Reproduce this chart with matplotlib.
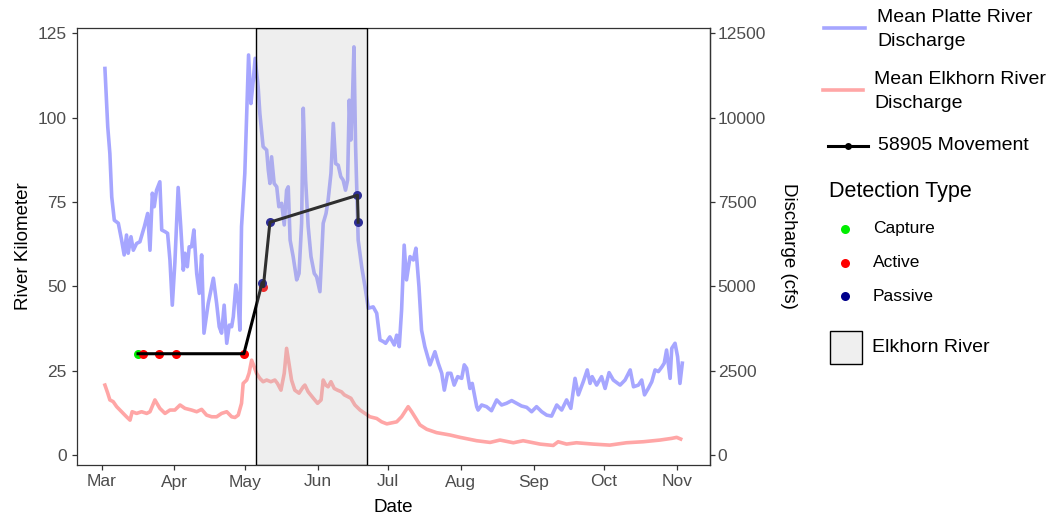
import numpy as np
import pandas as pd
import matplotlib
matplotlib.use("Agg")
import matplotlib.pyplot as plt
import matplotlib.dates as mdates
from matplotlib.lines import Line2D
from matplotlib.patches import Rectangle

plt.rcParams["font.family"] = ["Liberation Sans", "DejaVu Sans"]

# ---------------------------------------------------------------------------
# Data (days counted from 1 March; discharge in cfs; river km)
# ---------------------------------------------------------------------------
season_start = "2019-03-01"

platte_day = [
    1.4, 2.6, 3.5, 4.3, 5.4, 7.1, 8.5, 9.6, 10.6, 11.3, 12.5, 13.5, 14.9, 16.3,
    18.2, 19.6, 20.6, 21.6, 22.4, 23.4, 24.8, 25.6, 27.0, 28.1, 29.1, 30.1, 31.2,
    32.6, 33.7, 34.8, 35.5, 36.5, 37.3, 38.3, 39.3, 40.5, 41.6, 42.6, 43.6, 45.4,
    47.6, 49.0, 50.1, 51.1, 52.2, 53.3, 54.4, 55.4, 56.1, 57.2, 58.2, 58.9, 59.6,
    61.0, 62.0, 62.6, 63.6, 64.6, 65.4, 66.7, 67.4, 68.8, 70.3, 71.0, 71.7, 72.4,
    73.5, 74.6, 75.5, 76.7, 77.8, 78.8, 79.5, 80.3, 81.6, 83.1, 84.1, 85.2, 85.9,
    86.9, 88.0, 89.2, 90.6, 91.6, 93.0, 94.4, 95.6, 96.5, 97.7, 98.7, 99.7, 100.8,
    101.9, 102.9, 103.9, 104.8, 105.5, 106.2, 106.9, 107.5, 108.2, 109.3, 110.8,
    112.2, 113.6, 115.7, 117.2, 118.6, 120.0, 121.0, 122.8, 124.7, 125.7, 126.8,
    127.8, 128.9, 129.9, 131.4, 132.8, 133.9, 135.2, 136.3, 137.7, 139.9, 142.0,
    143.4, 144.9, 146.0, 147.4, 148.8, 150.2, 151.7, 153.4, 154.5, 155.5, 156.9,
    157.9, 159.8, 160.4, 161.9, 164.0, 166.1, 168.3, 170.4, 172.5, 174.7, 176.8,
    178.9, 181.1, 183.2, 185.3, 187.5, 189.6, 191.7, 193.9, 196.0, 198.1, 199.9,
    201.7, 203.1, 205.2, 206.9, 208.1, 209.0, 210.9, 213.0, 214.5, 216.2, 218.0,
    220.9, 223.0, 225.2, 226.6, 228.7, 230.1, 231.3, 232.9, 234.4, 235.8, 237.2,
    238.7, 239.7, 240.7, 242.2, 242.9, 244.3, 245.4, 246.4, 247.4,
]
platte_cfs = [
    11460, 9730, 8940, 7650, 6960, 6870, 6370, 5930, 6520, 5980, 6470, 6070, 6270, 6320,
    6770, 7160, 6070, 7760, 7360, 7850, 8100, 6670, 6620, 6570, 5780, 4440, 5700,
    7930, 6770, 5480, 5980, 5580, 6170, 6170, 6670, 5380, 4790, 5930, 3610, 4490,
    5240, 4490, 3800, 3610, 4440, 3310, 3850, 3800, 4100, 5040, 4490, 3700, 6770,
    8350, 10520, 11860, 10420, 11110, 11760, 10900, 10130, 9140, 9040, 8450, 8050, 8840,
    8050, 7950, 7360, 7460, 6820, 7850, 7950, 6370, 5880, 5190, 5380, 6870, 10280,
    8150, 6770, 5880, 5380, 5280, 4840, 6870, 7160, 7560, 8350, 9830, 8640, 8590,
    8250, 8150, 7850, 8150, 10520, 9340, 10620, 12100, 9140, 6370, 5580,
    4990, 4350, 4390, 4200, 3410, 3360, 3310, 3500, 3260, 3550, 3210,
    4300, 6220, 5190, 5880, 5780, 6130, 4990, 3700, 3210, 2670, 3060,
    2720, 2420, 1920, 2420, 2420, 2070, 2320, 2270, 2670, 2570, 1970,
    2120, 1430, 1330, 1480, 1430, 1310, 1630, 1480, 1530, 1610, 1530,
    1450, 1410, 1280, 1430, 1280, 1180, 1150, 1480, 1330, 1630, 1380,
    2270, 1780, 2170, 2520, 2120, 2320, 2070, 2320, 1970, 2440, 2220,
    2070, 2220, 2520, 2020, 2070, 2220, 1780, 1970, 2170, 2520, 2470,
    2610, 2720, 3110, 2270, 3160, 3310, 2910, 2120, 2720,
]

elkhorn_day = [
    1.4, 2.6, 3.5, 4.9, 6.4, 8.5, 10.6, 12.1, 13.0, 14.9, 17.0, 19.2, 20.6, 22.7,
    24.8, 27.0, 29.1, 31.2, 33.4, 35.5, 38.3, 40.5, 42.6, 44.7, 46.9, 49.0, 51.1,
    53.3, 55.4, 56.8, 58.2, 59.6, 60.3, 61.8, 62.8, 63.9, 65.0, 66.0, 67.4, 68.8,
    70.3, 72.1, 73.8, 74.9, 76.4, 77.8, 78.8, 79.8, 80.9, 82.3, 84.1, 85.9, 86.6,
    88.0, 90.2, 92.0, 93.5, 94.4, 95.5, 96.5, 97.7, 99.1, 100.5, 102.2, 103.4,
    104.8, 106.2, 107.9, 110.1, 112.2, 114.3, 117.2, 119.3, 121.5, 123.6, 125.7,
    127.8, 129.2, 130.6, 132.1, 135.6, 138.5, 142.7, 148.4, 152.7, 159.8, 165.5,
    169.7, 175.4, 179.6, 186.8, 192.4, 194.5, 198.1, 202.3, 209.4, 216.5, 223.6,
    230.8, 237.9, 242.9, 245.0, 246.7,
]
elkhorn_cfs = [
    2070, 1830, 1630, 1580, 1430, 1280, 1130, 1030, 1280, 1230, 1280, 1230, 1280, 1630,
    1380, 1230, 1330, 1330, 1480, 1380, 1330, 1280, 1350, 1180, 1130, 1130, 1230,
    1280, 1130, 1110, 1180, 1530, 2120, 2220, 2420, 2810, 2610, 2420, 2270, 2170,
    2220, 2170, 2220, 2120, 1920, 2420, 3160, 2720, 2220, 1920, 1830, 2020, 2070,
    1870, 1680, 1530, 1630, 2220, 2070, 2020, 2170, 1970, 1920, 1870, 1780,
    1730, 1680, 1480, 1330, 1230, 1130, 1080, 980, 920, 950, 980,
    1130, 1280, 1430, 1280, 890, 760, 660, 590, 520, 420, 370,
    440, 360, 420, 320, 280, 390, 320, 360, 320, 290, 360,
    390, 440, 490, 520, 470,
]

# Fish 58905 detections
move_day = [15.5, 17.6, 24.4, 31.7, 60.6, 68.4, 68.9, 71.7, 109.0, 109.3]
move_rkm = [30, 30, 30, 30, 30, 51.1, 49.9, 69, 77, 69]
move_type = ["Capture", "Active", "Active", "Active", "Active",
             "Passive", "Active", "Passive", "Passive", "Passive"]

detection_types = ["Capture", "Active", "Passive"]
detection_colors = ["#00EE00", "#FF0000", "#00008B"]

# Time spent in the Elkhorn River
elkhorn_visit = [65.8, 112.9]

rkm_ticks = [0, 25, 50, 75, 100, 125]
cfs_ticks = [0, 2500, 5000, 7500, 10000, 12500]


def to_date(days):
    return pd.Timestamp(season_start) + pd.to_timedelta(np.asarray(days, float), unit="D")


# ---------------------------------------------------------------------------
# Figure
# ---------------------------------------------------------------------------
W, H = 1049, 515
fig = plt.figure(figsize=(W / 100, H / 100), dpi=100)
ax = fig.add_axes([77 / W, 1 - 464.5 / H, (710 - 77) / W, (464.5 - 28) / H])

platte_col = "#A6A6FF"
elkhorn_col = "#FFA6A6"
lw_q = 2.6

ax.plot(to_date(platte_day), np.asarray(platte_cfs) / 100, color=platte_col,
        lw=lw_q, solid_joinstyle="round", zorder=2)
ax.plot(to_date(elkhorn_day), np.asarray(elkhorn_cfs) / 100, color=elkhorn_col,
        lw=lw_q, solid_joinstyle="round", zorder=2)

mdays = np.asarray(move_day)
mrkm = np.asarray(move_rkm)
mtype = np.asarray(move_type)
for t, c in zip(detection_types, detection_colors):
    sel = mtype == t
    ax.plot(to_date(mdays[sel]), mrkm[sel], "o", color=c, ms=6.5, mew=0, zorder=3)
order = np.argsort(mdays, kind="stable")
ax.plot(to_date(mdays[order]), mrkm[order], color="black", lw=2.2,
        solid_joinstyle="round", zorder=4)

# shaded Elkhorn period drawn over the series
v0, v1 = to_date(elkhorn_visit)
ax.axvspan(v0, v1, facecolor=(0.745, 0.745, 0.745, 0.25), edgecolor="black",
           lw=1.0, zorder=5)

ax.set_xlim(to_date([-10.5, 259.2]))
ax.set_ylim(-2.85, 126.6)
ax.xaxis.set_major_locator(mdates.MonthLocator())
ax.xaxis.set_major_formatter(mdates.DateFormatter("%b"))
ax.set_yticks(rkm_ticks)

spine_col = "#333333"
for s in ax.spines.values():
    s.set_color(spine_col)
    s.set_linewidth(0.9)

tick_kw = dict(direction="out", length=3.6, width=0.9, color=spine_col,
               labelsize=12.5, labelcolor="#4D4D4D")
ax.tick_params(axis="both", pad=3.6, **tick_kw)

sec = ax.secondary_yaxis("right", functions=(lambda v: v * 100, lambda v: v / 100))
sec.set_yticks(cfs_ticks)
sec.tick_params(pad=2.0, **tick_kw)
sec.spines["right"].set_color(spine_col)
sec.spines["right"].set_linewidth(0.9)

ax.set_xlabel("Date", fontsize=13.5, labelpad=6.5)
ax.set_ylabel("River Kilometer", fontsize=13.5, labelpad=4)
sec.set_ylabel("Discharge (cfs)", fontsize=13.5, rotation=270, labelpad=22)

# ---------------------------------------------------------------------------
# Legend (figure pixel coordinates, y downward)
# ---------------------------------------------------------------------------
lax = fig.add_axes([0, 0, 1, 1], facecolor="none")
lax.set_xlim(0, W)
lax.set_ylim(H, 0)
lax.axis("off")

lab = dict(fontsize=14, va="center", ha="left", color="black")
lax.add_line(Line2D([824, 865], [28.3, 28.3], color=platte_col, lw=lw_q))
lax.text(877, 18, "Mean Platte River", **lab)
lax.text(877, 41, "Discharge", **lab)

lax.add_line(Line2D([823, 863], [90, 90], color=elkhorn_col, lw=lw_q))
lax.text(874, 80, "Mean Elkhorn River", **lab)
lax.text(874, 103, "Discharge", **lab)

lax.add_line(Line2D([828, 868], [146, 146], color="black", lw=2.2))
lax.plot([848], [146], "o", color="black", ms=5, mew=0)
lax.text(878, 146, "58905 Movement", **lab)

lax.text(829, 191.5, "Detection Type", fontsize=15.5, va="center", ha="left")
for i, (t, c) in enumerate(zip(detection_types, detection_colors)):
    y = 228.7 + i * 33.8
    lax.plot([845], [y], "o", color=c, ms=6.5, mew=0)
    lax.text(873, y, t, fontsize=12.5, va="center", ha="left")

lax.add_patch(Rectangle((829.5, 331), 32, 32.5, facecolor="#EFEFEF",
                        edgecolor="black", lw=1.0))
lax.text(872, 347.5, "Elkhorn River", **lab)

fig.savefig("out.png", dpi=100)
